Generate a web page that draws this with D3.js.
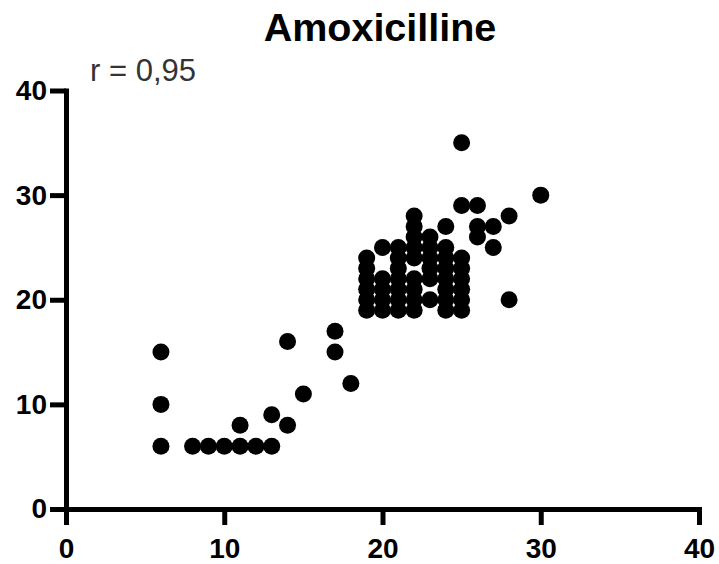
<!DOCTYPE html>
<html lang="fr">
<head>
  <meta charset="UTF-8">
  <title>Amoxicilline</title>
  <script src="https://d3js.org/d3.v7.min.js"></script>
  <style>
    body { margin: 0; background: #fff; }
    text { font-family: "Liberation Sans", Arial, Helvetica, sans-serif; }
  </style>
</head>
<body>
<svg width="719" height="564"></svg>
<script>
  // données
  var chartTitle = "Amoxicilline";
  var corrLabel = "r = 0,95";
  var xTicks = [0, 10, 20, 30, 40];
  var yTicks = [0, 10, 20, 30, 40];
  var xVals = [
    6, 6, 6,
    8, 9, 10, 11, 12, 13,
    11, 13, 14, 14, 15, 17, 17, 18,
    19, 19, 19, 19, 19, 19,
    20, 20, 20, 20, 20,
    21, 21, 21, 21, 21, 21, 21,
    22, 22, 22, 22, 22, 22, 22, 22, 22,
    23, 23, 23, 23, 23, 23,
    24, 24, 24, 24, 24, 24, 24, 24,
    25, 25, 25, 25, 25, 25, 25, 25,
    26, 26, 26,
    27, 27,
    28, 28,
    30
  ];
  var yVals = [
    6, 10, 15,
    6, 6, 6, 6, 6, 6,
    8, 9, 8, 16, 11, 15, 17, 12,
    19, 20, 21, 22, 23, 24,
    19, 20, 21, 22, 25,
    19, 20, 21, 22, 23, 24, 25,
    19, 20, 21, 22, 24, 25, 26, 27, 28,
    20, 22, 23, 24, 25, 26,
    19, 20, 21, 22, 23, 24, 25, 27,
    19, 20, 21, 22, 23, 24, 29, 35,
    26, 27, 29,
    25, 27,
    20, 28,
    30
  ];

  var svg = d3.select('svg');

  var x = d3.scaleLinear().domain([0, 40]).range([66, 699]);
  var y = d3.scaleLinear().domain([0, 40]).range([509, 90.5]);

  // titre
  svg.append('text')
    .attr('x', 380)
    .attr('y', 41)
    .attr('text-anchor', 'middle')
    .attr('font-size', 39.5)
    .attr('font-weight', 'bold')
    .text(chartTitle);

  // axe x
  var gx = svg.append('g')
    .attr('transform', 'translate(0,' + y(0) + ')')
    .call(d3.axisBottom(x).tickValues(xTicks).tickSize(16).tickSizeOuter(0).tickPadding(13));

  // axe y
  var gy = svg.append('g')
    .attr('transform', 'translate(' + x(0) + ',0)')
    .call(d3.axisLeft(y).tickValues(yTicks).tickSize(16).tickSizeOuter(0).tickPadding(3));

  [gx, gy].forEach(function (g) {
    g.select('.domain')
      .attr('stroke', '#000')
      .attr('stroke-width', 5)
      .attr('stroke-linecap', 'square');
    g.selectAll('.tick line')
      .attr('stroke', '#000')
      .attr('stroke-width', 5);
    g.selectAll('.tick text')
      .attr('fill', '#000')
      .attr('font-size', 28)
      .attr('font-weight', 'bold')
      .attr('font-family', '"Liberation Sans", Arial, sans-serif');
  });

  // points
  svg.append('g')
    .selectAll('circle')
    .data(xVals)
    .enter()
    .append('circle')
    .attr('cx', function (d) { return x(d); })
    .attr('cy', function (d, i) { return y(yVals[i]); })
    .attr('r', 8.5)
    .attr('fill', '#000');

  // coefficient de corrélation
  svg.append('text')
    .attr('x', 90)
    .attr('y', 81)
    .attr('font-size', 31)
    .attr('fill', '#333')
    .text(corrLabel);
</script>
</body>
</html>
